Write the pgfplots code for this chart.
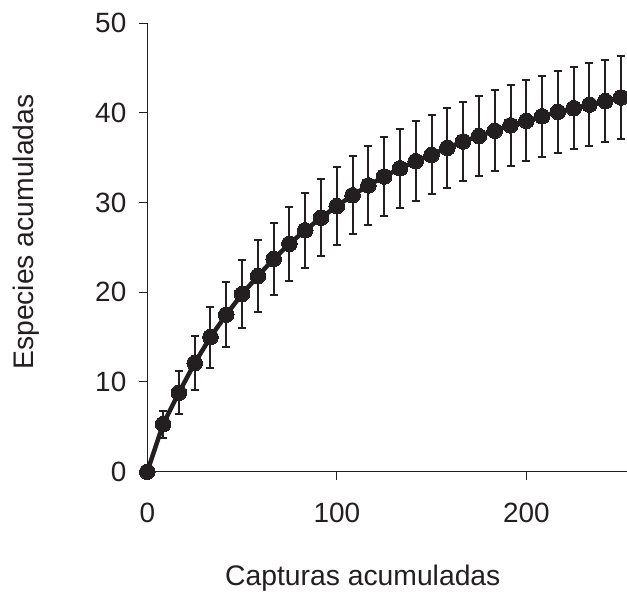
\documentclass[border=0pt]{standalone}
\usepackage{fontspec}
\setmainfont{Liberation Sans}
\usepackage{pgfplots}
\pgfplotsset{compat=1.18}
\definecolor{ink}{RGB}{35,31,32}

\pgfplotstableread{
x y e
0 0 0
8.333 5.3 1.5
16.667 8.8 2.4
25 12.1 3.0
33.333 15.0 3.4
41.667 17.5 3.6
50 19.8 3.8
58.333 21.8 4.0
66.667 23.7 4.05
75 25.4 4.1
83.333 26.9 4.2
91.667 28.3 4.3
100 29.6 4.3
108.333 30.8 4.35
116.667 31.9 4.4
125 32.9 4.4
133.333 33.8 4.4
141.667 34.6 4.45
150 35.3 4.4
158.333 36.1 4.45
166.667 36.8 4.45
175 37.4 4.5
183.333 38.0 4.5
191.667 38.6 4.5
200 39.1 4.5
208.333 39.6 4.5
216.667 40.1 4.55
225 40.5 4.55
233.333 40.9 4.6
241.667 41.3 4.6
250 41.7 4.6
}\curve

\begin{document}
\begin{tikzpicture}
\useasboundingbox (-147.3bp,-121.3bp) rectangle (479.7bp,471.7bp);
\begin{axis}[
    anchor=south west, at={(0,0)},
    scale only axis,
    width=480bp, height=448.7bp,
    xmin=0, xmax=253.3,
    ymin=0, ymax=50,
    axis lines*=left,
    axis line style={ink, line width=1pt},
    clip=false,
    xtick={0,100,200},
    ytick={0,10,20,30,40,50},
    tick align=outside,
    major tick length=8bp,
    tick style={ink, line width=1pt},
    /pgf/number format/assume math mode=true,
    ticklabel style={font=\fontsize{28}{32}\selectfont, text=ink},
    yticklabel style={xshift=-9.5bp},
    xticklabel style={yshift=-20bp},
    xlabel={Capturas acumuladas},
    ylabel={Especies acumuladas},
    label style={font=\fontsize{28.4}{32}\selectfont, text=ink},
    xlabel style={at={(axis description cs:0.449,-0.2547)}, anchor=base},
    ylabel style={at={(axis description cs:-0.238,0.534)}, anchor=base, rotate=0},
]
\addplot[ink, line width=4.5bp, mark=*, mark size=7.8bp,
    mark options={fill=ink, draw=ink, line width=0pt},
    error bars/.cd, y dir=both, y explicit,
    error bar style={ink, line width=2bp},
    error mark options={ink, rotate=90, mark size=4bp, line width=2bp}]
    table[x=x, y=y, y error=e] {\curve};
\end{axis}
\end{tikzpicture}
\end{document}
